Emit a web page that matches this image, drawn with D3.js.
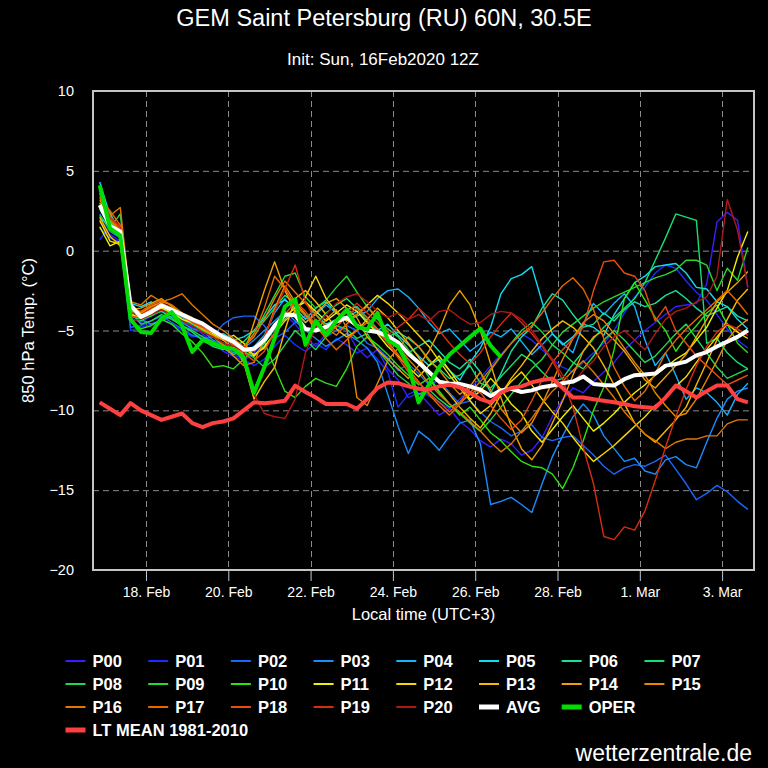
<!DOCTYPE html>
<html><head><meta charset="utf-8">
<script src="https://cdn.jsdelivr.net/npm/d3@7"></script>
<style>html,body{margin:0;padding:0;background:#000;}svg{display:block}</style>
</head><body>
<svg id="chart" width="768" height="768"></svg>
<script>
// ---------------- DATA ----------------
const memberNames = ["P00","P01","P02","P03","P04","P05","P06","P07","P08","P09","P10",
                     "P11","P12","P13","P14","P15","P16","P17","P18","P19","P20"];
const memberColors = ["#3a1cff","#1a2cff","#1a66ff","#1a8cff","#14b4ff","#14dcf0","#14e0a0",
                      "#14e070","#20d850","#28d830","#30e010","#f0f000","#f8d800","#f8b800",
                      "#f0a000","#e88800","#e07800","#e86800","#e84c10","#d82c10","#b01818"];
// first value: 16 Feb 2020 21:00 local (18Z), 6-hourly steps
const firstTimeLocal = "2020-02-16T21:00";
const stepHours = 6;

const p00 = [1.8,1.0,0.6,-4.2, -4.5,-4.1,-3.8,-4.0,-4.4,-4.8,-5.2,-5.7,-6.3,-6.6,-6.9, -6.4,-5.6,-4.6,-4.0,-4.6,
  -5.4,-6.0,-5.2,-4.7,-5.0,-6.1,-6.7,-6.2,-7.4,-8.1, -9.2,-8.9,-9.6,-10.3,-9.9,-10.7,-11.2,-11.9,-12.3,-11.8,
  -12.1,-12.8,-12.5,-11.7,-10.4,-9.3,-8.6,-8.9,-8.2,-7.6, -7.0,-6.2,-5.6,-5.0,-4.5,-4.0,-3.5,-3.4,-3.3,-2.1,1.8,2.4,1.9,-2.3];
const p01 = [0.7,1.5,0.9,-5.0, -4.8,-4.6,-4.3,-4.6,-5.0,-5.4,-5.3,-5.9,-6.1,-6.5,-6.8, -7.2,-6.8,-6.0,-5.3,-5.9,
  -6.3,-5.8,-6.2,-5.5,-5.9,-6.4,-6.1,-6.8,-7.6,-9.8, -9.0,-8.7,-9.1,-9.5,-9.9,-9.3,-8.6,-8.0,-7.2,-6.5,
  -5.8,-5.2,-5.6,-6.2,-6.8,-7.3,-7.6,-7.0,-6.4,-5.8, -5.0,-3.9,-2.9,-2.3,-1.4,-0.9,-1.1,-1.9,-2.6,-3.1,-4.0,-4.9,-5.6,-6.1];
const p02 = [1.4,0.8,0.5,-4.8, -4.7,-4.4,-4.1,-4.5,-4.9,-5.3,-5.5,-5.4,-4.6,-4.2,-4.1, -4.1,-4.7,-5.5,-5.1,-4.5,
  -4.1,-4.6,-5.4,-5.0,-4.7,-5.0,-5.8,-6.1,-6.7,-7.5, -7.1,-7.7,-8.4,-8.1,-8.9,-9.6,-9.4,-10.1,-10.7,-11.1,
  -11.6,-11.3,-10.9,-11.7,-11.9,-11.7,-11.6,-12.2,-12.8,-13.5, -14.0,-13.6,-13.4,-13.5,-13.2,-12.8,-13.7,-14.6,-15.6,-15.2,-14.7,-15.1,-15.7,-16.2];
const p03 = [2.3,1.2,0.8,-3.6, -4.3,-4.6,-4.4,-4.1,-4.5,-4.9,-5.0,-5.6,-5.9,-6.4,-6.1, -5.6,-5.0,-4.4,-3.8,-4.4,
  -5.0,-5.5,-6.0,-5.6,-5.2,-5.6,-6.1,-7.0,-9.0,-11.0, -12.7,-11.3,-11.8,-12.5,-11.6,-10.8,-10.6,-12.1,-15.9,-15.7,
  -15.45,-15.9,-16.4,-14.6,-12.9,-11.6,-10.4,-9.6,-10.3,-11.6, -12.4,-13.2,-13.0,-13.8,-14.0,-13.1,-12.9,-13.4,-13.6,-12.0,-10.5,-9.3,-8.8,-8.6];
const p04 = [2.0,1.6,1.0,-3.4, -3.9,-3.6,-3.4,-3.8,-4.2,-4.4,-4.8,-5.1,-5.5,-5.9,-6.3, -6.0,-5.3,-3.9,-3.0,-3.8,
  -4.5,-4.0,-3.4,-3.9,-4.4,-4.1,-3.8,-3.0,-2.5,-2.4, -2.9,-3.6,-4.5,-5.2,-4.9,-5.6,-6.3,-5.8,-5.1,-5.4,
  -4.9,-5.7,-6.5,-5.9,-5.2,-5.8,-6.4,-4.6,-3.3,-4.0, -3.3,-2.7,-3.5,-5.6,-7.2,-6.4,-7.8,-9.3,-8.6,-8.9,-9.5,-10.3,-9.0,-8.3];
const p05 = [4.3,2.2,1.4,-3.3, -3.5,-3.2,-3.6,-3.9,-4.1,-4.6,-4.9,-5.3,-5.2,-5.6,-5.4, -5.0,-4.2,-3.4,-3.1,-3.6,
  -4.3,-3.6,-3.2,-3.9,-4.2,-3.8,-4.5,-5.0,-4.6,-5.3, -5.9,-6.6,-7.2,-6.8,-7.5,-8.1,-7.0,-6.1,-4.8,-2.7,
  -1.75,-1.5,-1.0,-3.2,-5.2,-5.9,-5.4,-4.6,-4.8,-5.3, -4.0,-3.0,-2.0,-1.6,-1.0,-0.9,-0.8,-1.4,-2.3,-2.4,-3.2,-3.5,-4.3,-4.9];
const p06 = [3.0,1.8,1.3,-3.7, -3.9,-3.7,-3.5,-3.8,-4.3,-4.6,-5.0,-5.4,-5.8,-6.0,-6.4, -6.6,-5.8,-4.9,-4.3,-3.5,
  -3.2,-4.0,-4.6,-4.3,-3.7,-3.5,-4.2,-4.9,-5.4,-5.1, -5.5,-6.0,-5.6,-6.3,-7.0,-7.4,-6.8,-7.6,-8.9,-7.7,
  -6.3,-5.4,-4.8,-3.6,-2.7,-3.1,-4.0,-4.8,-4.6,-3.9, -4.4,-3.7,-3.2,-3.5,-3.3,-2.8,-2.5,-3.0,-3.6,-4.1,-3.8,-3.5,-4.1,-4.4];
const p07 = [3.4,2.4,1.0,-4.0, -4.4,-4.0,-3.8,-4.2,-4.7,-5.1,-5.6,-6.0,-6.2,-6.0,-5.7, -5.0,-4.4,-3.6,-2.8,-3.3,
  -4.0,-4.6,-3.9,-3.4,-3.0,-3.6,-4.4,-5.1,-5.6,-6.0, -6.4,-6.0,-6.9,-7.4,-8.0,-7.8,-7.2,-8.3,-8.6,-7.9,
  -7.2,-6.5,-6.9,-7.6,-8.2,-8.0,-7.1,-6.3,-5.5,-4.8, -4.2,-3.6,-3.0,-2.0,-0.6,0.8,2.3,2.1,1.9,-5.8,-5.5,-6.4,-7.0,-7.4];
const p08 = [2.2,1.4,2.3,-3.8, -4.6,-4.4,-4.0,-4.3,-4.7,-5.0,-5.4,-5.7,-6.1,-6.5,-6.3, -6.7,-7.3,-6.8,-5.9,-5.0,
  -5.6,-6.2,-5.4,-4.7,-4.9,-5.5,-5.2,-6.2,-7.0,-7.8, -8.3,-9.0,-8.7,-9.3,-9.8,-9.5,-9.0,-8.6,-7.5,-6.6,
  -5.8,-5.0,-4.5,-5.1,-5.9,-6.4,-7.0,-7.4,-6.6,-5.6, -5.0,-5.6,-6.3,-7.0,-6.6,-5.9,-5.2,-4.6,-5.5,-6.4,-7.3,-8.0,-7.7,-7.4];
const p09 = [3.6,1.9,1.2,-4.1, -4.3,-4.1,-3.7,-4.0,-4.4,-4.7,-5.0,-5.4,-5.9,-6.2,-6.0, -5.2,-4.0,-2.8,-1.6,-1.4,
  -2.9,-3.6,-3.1,-2.3,-1.6,-2.6,-3.5,-4.3,-4.9,-5.4, -6.2,-7.0,-7.9,-8.8,-9.6,-10.2,-10.8,-11.3,-10.6,-9.8,
  -9.0,-8.2,-7.4,-6.8,-5.9,-5.1,-4.6,-4.1,-3.6,-3.2, -2.9,-2.6,-2.3,-2.0,-1.7,-1.5,-1.2,-0.6,-0.6,-0.9,-2.5,-1.1,-1.85,0.2];
const p10 = [2.6,1.5,0.9,-4.3, -4.9,-4.7,-4.3,-4.6,-5.2,-5.7,-6.4,-7.3,-7.2,-7.4,-6.8, -6.2,-5.7,-7.3,-8.8,-9.2,
  -8.5,-8.0,-8.3,-8.5,-7.4,-6.0,-5.4,-5.9,-6.5,-7.2, -7.8,-8.4,-8.0,-8.9,-9.6,-10.3,-9.8,-10.6,-11.4,-11.9,
  -12.6,-13.2,-13.5,-13.6,-14.0,-14.9,-13.6,-11.9,-10.0,-8.55, -6.2,-3.0,-2.0,-3.1,-4.2,-5.0,-6.3,-5.4,-4.7,-3.9,-3.4,-4.6,-5.8,-6.4];
const p11 = [1.5,0.3,0.6,-4.0, -4.2,-3.9,-3.6,-3.9,-4.3,-4.5,-4.9,-5.2,-5.6,-5.3,-5.8, -6.6,-6.0,-5.2,-4.1,-3.6,
  -3.2,-3.8,-4.4,-3.9,-3.4,-3.8,-4.5,-5.2,-6.0,-6.6, -7.3,-7.9,-7.2,-6.6,-7.5,-8.4,-9.3,-8.8,-8.0,-8.7,
  -9.6,-10.2,-11.3,-12.0,-11.2,-10.4,-9.7,-10.5,-11.3,-10.8, -10.2,-9.5,-8.9,-8.4,-7.8,-7.3,-6.8,-6.4,-5.6,-4.8,-3.6,-2.5,-0.4,1.2];
const p12 = [1.9,0.6,0.4,-3.9, -4.0,-3.7,-3.4,-3.8,-4.1,-4.4,-4.7,-5.0,-5.5,-5.8,-6.2, -6.5,-6.1,-5.2,-4.4,-3.8,
  -2.9,-1.6,-3.0,-3.8,-4.4,-4.0,-3.4,-2.8,-3.3,-3.9, -4.6,-5.3,-6.0,-6.9,-7.8,-8.6,-9.4,-10.2,-9.7,-8.9,
  -8.2,-7.6,-8.4,-9.3,-10.1,-10.8,-11.7,-12.5,-13.2,-12.7, -12.2,-11.6,-11.0,-10.4,-9.7,-9.2,-8.5,-7.9,-7.0,-6.2,-5.4,-4.6,-5.1,-5.5];
const p13 = [2.1,0.9,0.3,-3.5, -3.9,-3.5,-3.3,-3.6,-4.0,-4.3,-4.6,-5.0,-5.4,-5.9,-7.0, -9.3,-8.2,-7.3,-5.0,-3.0,
  -2.5,-3.2,-4.0,-4.9,-5.4,-5.0,-4.3,-3.6,-4.2,-5.0, -5.8,-6.7,-7.6,-8.3,-9.0,-9.8,-10.5,-11.1,-10.2,-9.0,
  -8.0,-7.2,-6.3,-5.5,-4.9,-4.4,-4.8,-5.4,-6.1,-7.2, -8.4,-9.6,-10.8,-11.5,-12.0,-11.3,-10.6,-9.8,-8.4,-7.0,-5.6,-4.3,-3.1,-2.4];
const p14 = [2.8,1.7,1.1,-3.7, -3.6,-3.3,-3.0,-3.5,-4.0,-4.5,-4.9,-5.3,-5.6,-6.1,-6.5, -4.5,-2.5,-0.7,-2.5,-3.8,
  -4.5,-3.9,-3.3,-3.0,-3.6,-4.2,-5.4,-6.2,-6.8,-7.4, -8.0,-7.2,-6.3,-5.0,-3.4,-2.5,-3.4,-5.0,-7.1,-9.2,
  -11.0,-12.4,-13.1,-12.2,-10.8,-9.4,-7.8,-6.3,-5.4,-5.0, -5.6,-6.3,-7.2,-8.1,-8.6,-7.9,-7.2,-6.5,-5.4,-4.3,-3.2,-2.6,-2.0,-1.3];
const p15 = [3.2,2.0,1.2,-3.8, -3.9,-3.5,-3.2,-3.4,-3.9,-4.3,-4.8,-5.3,-5.9,-6.6,-7.2, -7.0,-5.5,-3.6,-2.2,-3.2,
  -4.0,-5.0,-4.3,-3.7,-4.8,-9.2,-9.7,-8.3,-6.9,-6.1, -5.4,-6.0,-6.8,-7.5,-8.3,-9.0,-8.5,-7.6,-8.7,-9.9,
  -10.7,-11.4,-10.8,-9.6,-8.2,-6.8,-5.5,-4.5,-4.0,-4.4, -5.2,-6.1,-7.0,-7.8,-8.9,-9.7,-10.4,-10.2,-9.3,-8.1,-6.9,-5.6,-4.8,-4.3];
const p16 = [3.0,2.2,2.7,-3.2, -3.4,-2.8,-3.2,-3.0,-2.7,-3.4,-4.0,-4.6,-5.0,-5.5,-6.0, -5.4,-4.3,-3.0,-1.9,-2.6,
  -3.3,-4.0,-4.8,-5.3,-4.6,-4.0,-3.5,-4.2,-5.1,-6.0, -6.8,-7.5,-8.3,-9.0,-9.6,-10.1,-10.7,-11.3,-12.0,-12.6,
  -12.1,-11.3,-10.5,-9.6,-8.8,-8.2,-7.5,-6.9,-7.6,-8.4, -9.2,-10.1,-10.8,-11.5,-11.9,-12.4,-12.0,-11.8,-11.8,-11.6,-11.6,-10.85,-10.6,-10.6];
const p17 = [3.3,2.5,1.6,-3.6, -3.8,-3.4,-3.1,-3.4,-3.9,-4.2,-4.6,-5.0,-5.3,-5.7,-6.1, -5.2,-3.6,-1.6,-2.4,-3.4,
  -4.1,-4.7,-5.5,-6.2,-5.6,-5.0,-4.5,-4.9,-5.7,-6.5, -7.4,-8.2,-9.0,-9.7,-10.3,-9.6,-8.9,-8.2,-7.4,-6.6,
  -5.8,-5.2,-4.7,-3.9,-3.0,-2.2,-1.7,-2.4,-3.7,-5.5, -7.3,-8.5,-9.4,-8.8,-7.7,-6.4,-5.6,-4.9,-4.3,-3.7,-3.1,-2.5,-3.2,-4.0];
const p18 = [3.6,2.0,1.4,-4.1, -4.2,-3.8,-3.5,-3.7,-4.1,-4.5,-4.8,-5.1,-5.5,-5.9,-6.4, -6.9,-6.3,-5.1,-4.0,-3.2,
  -3.8,-4.6,-5.2,-4.8,-4.1,-3.6,-4.2,-5.0,-5.8,-6.7, -7.6,-8.3,-8.9,-9.5,-10.1,-9.5,-8.6,-8.9,-9.7,-10.5,
  -11.2,-10.6,-9.4,-8.1,-7.0,-6.2,-5.5,-4.8,-2.5,-0.7, -0.6,-1.4,-1.6,-2.5,-4.4,-3.5,-5.0,-5.8,-6.6,-7.2,-7.8,-8.4,-8.1,-7.8];
const p19 = [3.8,2.1,1.5,-3.9, -4.0,-3.6,-3.3,-3.6,-4.0,-4.4,-4.7,-5.0,-5.4,-5.7,-6.0, -6.3,-5.4,-3.8,-2.4,-0.9,
  -3.2,-4.4,-5.0,-4.4,-3.9,-3.3,-3.9,-4.5,-5.3,-4.8, -4.3,-3.6,-4.2,-5.0,-5.8,-6.5,-7.1,-6.4,-5.4,-4.6,
  -3.9,-4.5,-5.2,-6.0,-6.9,-8.1,-9.8,-12.3,-14.6,-17.9, -18.1,-17.3,-17.5,-16.3,-14.4,-12.3,-10.4,-8.7,-7.2,-6.0,-5.1,-4.6,-4.9,-5.3];
const p20 = [2.9,1.6,1.2,-4.4, -4.3,-4.0,-3.7,-4.0,-4.4,-4.7,-5.1,-5.4,-5.8,-6.0,-6.3, -9.0,-10.2,-10.4,-10.5,-9.3,
  -6.4,-4.8,-4.0,-3.3,-2.9,-2.7,-3.2,-3.8,-4.2,-3.9, -4.3,-4.0,-4.4,-3.8,-3.7,-4.2,-4.6,-4.5,-4.0,-3.8,
  -3.9,-4.3,-5.0,-5.9,-6.8,-7.8,-8.3,-7.5,-6.9,-6.0, -5.4,-5.0,-5.6,-6.2,-5.2,-4.3,-3.8,-3.6,-3.2,-2.9,-1.6,3.2,1.3,-2.3];

const avg = [2.86,1.55,1.2,-3.4, -4.15,-3.85,-3.42,-3.7,-4.0,-4.3,-4.57,-5.0,-5.4,-5.7,-6.2, -6.15,-5.6,-4.7,-4.0,-4.05,
  -4.9,-5.0,-4.78,-4.45,-4.2,-4.7,-5.0,-5.1,-5.35,-5.75, -6.45,-7.0,-7.6,-8.2,-8.34,-8.34,-8.5,-8.7,-9.1,-8.75,
  -8.65,-8.85,-8.75,-8.55,-8.45,-8.3,-8.2,-7.88,-8.35,-8.42, -8.44,-8.05,-7.8,-7.75,-7.7,-7.2,-7.1,-6.95,-6.56,-6.35,-6.0,-5.7,-5.4,-5.0];
const oper = [4.1,1.4,0.95,-4.3, -5.1,-5.15,-4.25,-3.85,-4.7,-6.35,-5.6,-5.8,-6.05,-6.15,-6.7, -8.9,-7.3,-5.5,-3.5,-3.05,
  -5.9,-4.4,-5.25,-4.4,-3.7,-4.75,-4.95,-3.9,-5.6,-6.0, -7.2,-9.5,-8.4,-7.3,-6.5,-5.95,-5.4,-4.88,-5.95,-6.67];
const ltMean = [-9.5,-9.9,-10.3,-9.55, -10.0,-10.3,-10.6,-10.4,-10.2,-10.8,-11.05,-10.8,-10.7,-10.5,-10.0, -9.5,-9.55,-9.5,-9.4,-8.45,
  -8.85,-9.2,-9.6,-9.6,-9.6,-9.9,-9.3,-8.6,-8.25,-8.3, -8.5,-8.65,-8.7,-8.5,-8.4,-8.55,-8.9,-9.3,-9.5,-8.9,
  -8.6,-8.5,-8.25,-8.1,-8.0,-8.6,-9.2,-9.2,-9.3,-9.4, -9.5,-9.6,-9.75,-9.8,-9.85,-9.2,-8.45,-8.8,-9.2,-8.8,-8.45,-8.45,-9.3,-9.5];

const xTickDates = ["2020-02-18","2020-02-20","2020-02-22","2020-02-24","2020-02-26","2020-02-28","2020-03-01","2020-03-03"];
const xTickLabels = ["18. Feb","20. Feb","22. Feb","24. Feb","26. Feb","28. Feb","1. Mar","3. Mar"];
const yTickValues = [-20,-15,-10,-5,0,5,10];
const yGridValues = [-15,-10,-5,0,5];

const members = [p00,p01,p02,p03,p04,p05,p06,p07,p08,p09,p10,p11,p12,p13,p14,p15,p16,p17,p18,p19,p20];

// ---------------- LAYOUT ----------------
const FONT = "'Liberation Sans', Arial, sans-serif";
const M = {left: 93, right: 754, top: 91, bottom: 570};
const svg = d3.select("#chart");
svg.append("rect").attr("width",768).attr("height",768).attr("fill","#000");

const parseLocal = s => { const [d,t] = s.split("T"); const [Y,Mo,D] = d.split("-").map(Number);
  const [h,mi] = (t||"00:00").split(":").map(Number); return new Date(Date.UTC(Y,Mo-1,D,h,mi)); };
const t0 = parseLocal(firstTimeLocal);
const timeAt = i => new Date(t0.getTime() + i*stepHours*3600e3);

const x = d3.scaleUtc()
  .domain([parseLocal("2020-02-16T17:05"), parseLocal("2020-03-03T18:36")])
  .range([M.left, M.right]);
const y = d3.scaleLinear().domain([-20,10]).range([M.bottom, M.top]);

// grid
const grid = svg.append("g").attr("stroke","#8a8a8a").attr("stroke-width",1).attr("stroke-dasharray","6,4");
grid.selectAll("line.h").data(yGridValues).join("line")
  .attr("x1",M.left).attr("x2",M.right).attr("y1",d=>y(d)+0.5).attr("y2",d=>y(d)+0.5);
grid.selectAll("line.v").data(xTickDates).join("line")
  .attr("x1",d=>Math.round(x(parseLocal(d)))+0.5).attr("x2",d=>Math.round(x(parseLocal(d)))+0.5)
  .attr("y1",M.top).attr("y2",M.bottom);

// clip
svg.append("clipPath").attr("id","clip").append("rect")
  .attr("x",M.left).attr("y",M.top).attr("width",M.right-M.left).attr("height",M.bottom-M.top);
const plot = svg.append("g").attr("clip-path","url(#clip)");

const line = d3.line().x((d,i)=>x(timeAt(i))).y(d=>y(d));

members.forEach((s,k)=>{
  plot.append("path").datum(s).attr("d",line).attr("fill","none")
    .attr("stroke",memberColors[k]).attr("stroke-width",1.4).attr("stroke-linejoin","round");
});
plot.append("path").datum(avg).attr("d",line).attr("fill","none").attr("stroke","#ffffff")
  .attr("stroke-width",4).attr("stroke-linejoin","round");
plot.append("path").datum(oper).attr("d",line).attr("fill","none").attr("stroke","#00dd00")
  .attr("stroke-width",4).attr("stroke-linejoin","round");
plot.append("path").datum(ltMean).attr("d",line).attr("fill","none").attr("stroke","#ff4040")
  .attr("stroke-width",4).attr("stroke-linejoin","round");

// frame
svg.append("rect").attr("x",M.left).attr("y",M.top).attr("width",M.right-M.left).attr("height",M.bottom-M.top)
  .attr("fill","none").attr("stroke","#c4c4c4").attr("stroke-width",2);

// axes
const xAxis = d3.axisBottom(x).tickValues(xTickDates.map(parseLocal))
  .tickFormat((d,i)=>xTickLabels[i]).tickSize(10).tickPadding(6);
const gx = svg.append("g").attr("transform",`translate(0,${M.bottom+1})`).call(xAxis);
gx.select(".domain").remove();
gx.selectAll(".tick line").attr("stroke","#b8c8dc").attr("stroke-width",1);
gx.selectAll(".tick text").attr("fill","#ffffff").style("font-family",FONT).style("font-size","14px");

const yAxis = d3.axisLeft(y).tickValues(yTickValues).tickFormat(d3.format("d")).tickSize(0).tickPadding(19);
const gy = svg.append("g").attr("transform",`translate(${M.left},0)`).call(yAxis);
gy.select(".domain").remove();
gy.selectAll(".tick text").attr("fill","#ffffff").style("font-family",FONT).style("font-size","14.5px");

// titles
svg.append("text").attr("x",384).attr("y",26).attr("text-anchor","middle").attr("fill","#fff")
  .style("font-family",FONT).style("font-size","23.5px").text("GEM Saint Petersburg (RU) 60N, 30.5E");
svg.append("text").attr("x",383).attr("y",65).attr("text-anchor","middle").attr("fill","#fff")
  .style("font-family",FONT).style("font-size","17px").text("Init: Sun, 16Feb2020 12Z");
svg.append("text").attr("x",(M.left+M.right)/2).attr("y",620).attr("text-anchor","middle").attr("fill","#fff")
  .style("font-family",FONT).style("font-size","16.5px").text("Local time (UTC+3)");
svg.append("text").attr("transform",`translate(34,${(M.top+M.bottom)/2}) rotate(-90)`)
  .attr("text-anchor","middle").attr("fill","#fff")
  .style("font-family",FONT).style("font-size","16.5px").text("850 hPa Temp. (°C)");
svg.append("text").attr("x",752).attr("y",761).attr("text-anchor","end").attr("fill","#fff")
  .style("font-family",FONT).style("font-size","23px").text("wetterzentrale.de");

// legend
const legendItems = memberNames.map((n,k)=>({name:n,color:memberColors[k],w:2}))
  .concat([{name:"AVG",color:"#ffffff",w:5},{name:"OPER",color:"#00dd00",w:5}]);
const rowY = [661, 684, 707, 730];
const colX = k => 65.5 + 82.7*k;
const lg = svg.append("g");
legendItems.forEach((it,k)=>{
  const c = k%8, r = Math.floor(k/8);
  lg.append("line").attr("x1",colX(c)).attr("x2",colX(c)+20).attr("y1",rowY[r]).attr("y2",rowY[r])
    .attr("stroke",it.color).attr("stroke-width",it.w);
  lg.append("text").attr("x",colX(c)+27).attr("y",rowY[r]+5.5).attr("fill","#fff")
    .style("font-family",FONT).style("font-size","16.5px").style("font-weight","bold").text(it.name);
});
lg.append("line").attr("x1",colX(0)).attr("x2",colX(0)+20).attr("y1",rowY[3]).attr("y2",rowY[3])
  .attr("stroke","#ff4040").attr("stroke-width",5);
lg.append("text").attr("x",colX(0)+27).attr("y",rowY[3]+5.5).attr("fill","#fff")
  .style("font-family",FONT).style("font-size","16.5px").style("font-weight","bold").text("LT MEAN 1981-2010");
</script>
</body></html>
